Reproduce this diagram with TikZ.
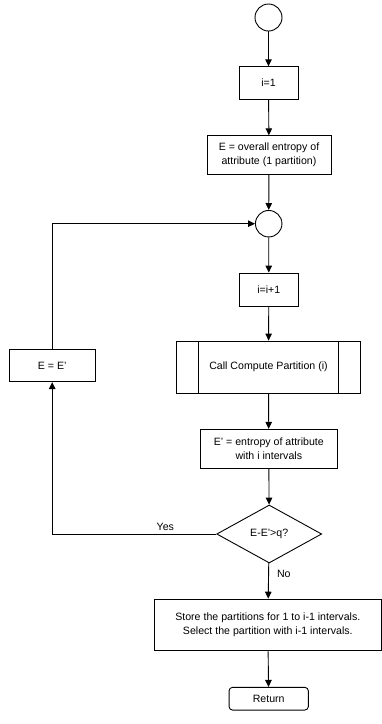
\documentclass[tikz,border=0pt]{standalone}
\usepackage{fontspec}
\setmainfont{Liberation Sans}
\usetikzlibrary{arrows.meta,shapes.geometric,positioning}
\begin{document}
\begin{tikzpicture}[x=1pt,y=-1pt,
  every node/.style={font=\fontsize{10.6}{14}\selectfont, inner sep=0pt, align=center},
  box/.style={draw, line width=0.9pt, rectangle},
  conn/.style={draw, line width=0.9pt},
  flow/.style={conn, -{Triangle[length=7pt,width=6.5pt]}},
  decision/.style={draw, line width=0.9pt, diamond, aspect=1.8},
  endpoint/.style={draw, line width=0.9pt, circle}]
\useasboundingbox (0,0) rectangle (382,724);

% main column
\node[endpoint, minimum size=27pt] (start) at (268.5,17.5) {};
\node[box, minimum width=59pt, minimum height=32.5pt] (i1) at (268.5,83) {i=1};
\node[box, minimum width=124pt, minimum height=38.5pt] (E) at (269,155) {E = overall entropy of\\attribute (1 partition)};
\node[endpoint, minimum size=26.5pt] (join) at (268.7,223.7) {};
\node[box, minimum width=59pt, minimum height=33pt] (inc) at (268.8,289.5) {i=i+1};
\node[box, minimum width=183.6pt, minimum height=52.3pt] (call) at (268.5,367.2) {Call Compute Partition (i)};
\draw[line width=0.9pt] ([xshift=22.6pt]call.north west) -- ([xshift=22.6pt]call.south west)
                        ([xshift=-22pt]call.north east) -- ([xshift=-22pt]call.south east);
\node[box, minimum width=137.7pt, minimum height=39.4pt] (Ep) at (268.8,449) {E' = entropy of attribute\\with i intervals};
\node[decision, minimum width=105pt, minimum height=58pt] (dec) at (269.2,534) {E-E'>q?};
\node[box, minimum width=227.3pt, minimum height=51.7pt] (store) at (267.8,625) {Store the partitions for 1 to i-1 intervals.\\Select the partition with i-1 intervals.};
\node[box, rounded corners=3.5pt, minimum width=79.3pt, minimum height=22.7pt] (ret) at (268.7,698.7) {Return};

% loop-back box
\node[box, minimum width=85.7pt, minimum height=32.3pt] (EE) at (52.2,365.5) {E = E'};

% connectors
\draw[flow] (start) -- (i1);
\draw[flow] (i1) -- (E);
\draw[flow] (E) -- (join);
\draw[flow] (join) -- (inc);
\draw[flow] (inc) -- (call);
\draw[flow] (call) -- (Ep);
\draw[flow] (Ep) -- (dec);
\draw[flow] (dec) -- node[right=8pt, pos=0.3] {No} (store);
\draw[flow] (store) -- (ret);
\draw[flow] (dec.west) -- node[above=3pt, pos=0.31] {Yes} (EE.south |- dec.west) -- (EE.south);
\draw[flow] (EE.north) -- (EE.north |- join.west) -- (join.west);
\end{tikzpicture}
\end{document}
